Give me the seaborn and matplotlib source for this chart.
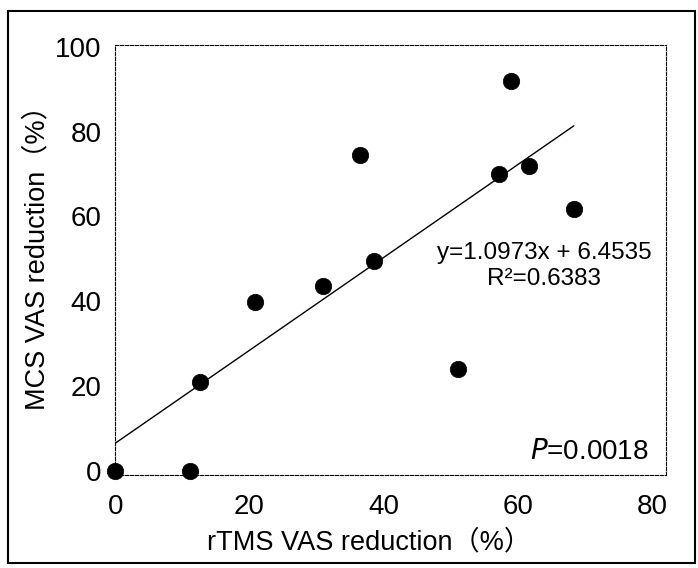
import matplotlib
matplotlib.use("Agg")
import matplotlib.pyplot as plt
import seaborn as sns
import numpy as np
import pandas as pd
from matplotlib.patches import Rectangle

# Data
rtms_reduction = [0.0, 11.1, 12.7, 20.8, 31.0, 36.5, 38.6, 51.0, 57.2, 59.0, 61.6, 68.3]
mcs_reduction = [0.0, 0.0, 20.9, 39.7, 43.6, 74.5, 49.4, 24.1, 70.1, 91.9, 72.0, 61.7]
slope = 1.0973
intercept = 6.4535
r_squared = 0.6383
p_value = 0.0018
x_ticks = [0, 20, 40, 60, 80]
y_ticks = [0, 20, 40, 60, 80, 100]

sns.set_theme(style="white")
plt.rcParams['font.family'] = ['Liberation Sans', 'Noto Sans CJK SC', 'DejaVu Sans']
plt.rcParams['text.color'] = 'black'
plt.rcParams['axes.labelcolor'] = 'black'

df = pd.DataFrame({"x": rtms_reduction, "y": mcs_reduction})

fig = plt.figure(figsize=(6.98, 5.68), dpi=100)
ax = fig.add_axes([0.165, 0.164, 0.789, 0.757])

# regression line
line_x = np.array([0.0, max(rtms_reduction)])
line_df = pd.DataFrame({"x": line_x, "y": slope * line_x + intercept})
sns.lineplot(data=line_df, x="x", y="y", ax=ax, color="black", linewidth=1.0)

sns.scatterplot(data=df, x="x", y="y", ax=ax, s=140, color="black",
                edgecolor="black", linewidth=0.5, clip_on=False, zorder=5)

ax.set_xlim(0, 82)
ax.set_ylim(-1, 100.5)
ax.set_xticks(x_ticks)
ax.set_yticks(y_ticks)
ax.tick_params(axis="both", length=0, labelsize=20, colors="black")
ax.tick_params(axis="x", pad=14)
ax.tick_params(axis="y", pad=10)

for sp in ax.spines.values():
    sp.set_visible(True)
    sp.set_color("black")
    sp.set_linewidth(0.8)
    sp.set_linestyle((0, (3, 1.5)))

ax.set_xlabel("rTMS VAS reduction（%）", fontsize=19.5)
ax.xaxis.set_label_coords(0.46, -0.128)
ax.set_ylabel("MCS VAS reduction（%）", fontsize=19.5)
ax.yaxis.set_label_coords(-0.118, 0.52)

ax.text(63.9, 51.3, f"y={slope}x + {intercept}", fontsize=17.5, ha="center", va="center")
ax.text(63.9, 45.3, f"R²={r_squared}", fontsize=17.5, ha="center", va="center")
ax.text(79.5, 4.3, f"$\\it{{P}}$={p_value}", fontsize=20, ha="right", va="center")

# scan frame
fig.patches.append(Rectangle((0.011, 0.009), 0.984, 0.972, transform=fig.transFigure,
                             fill=False, edgecolor="black", linewidth=1.5))

fig.savefig("out.png", dpi=100)
